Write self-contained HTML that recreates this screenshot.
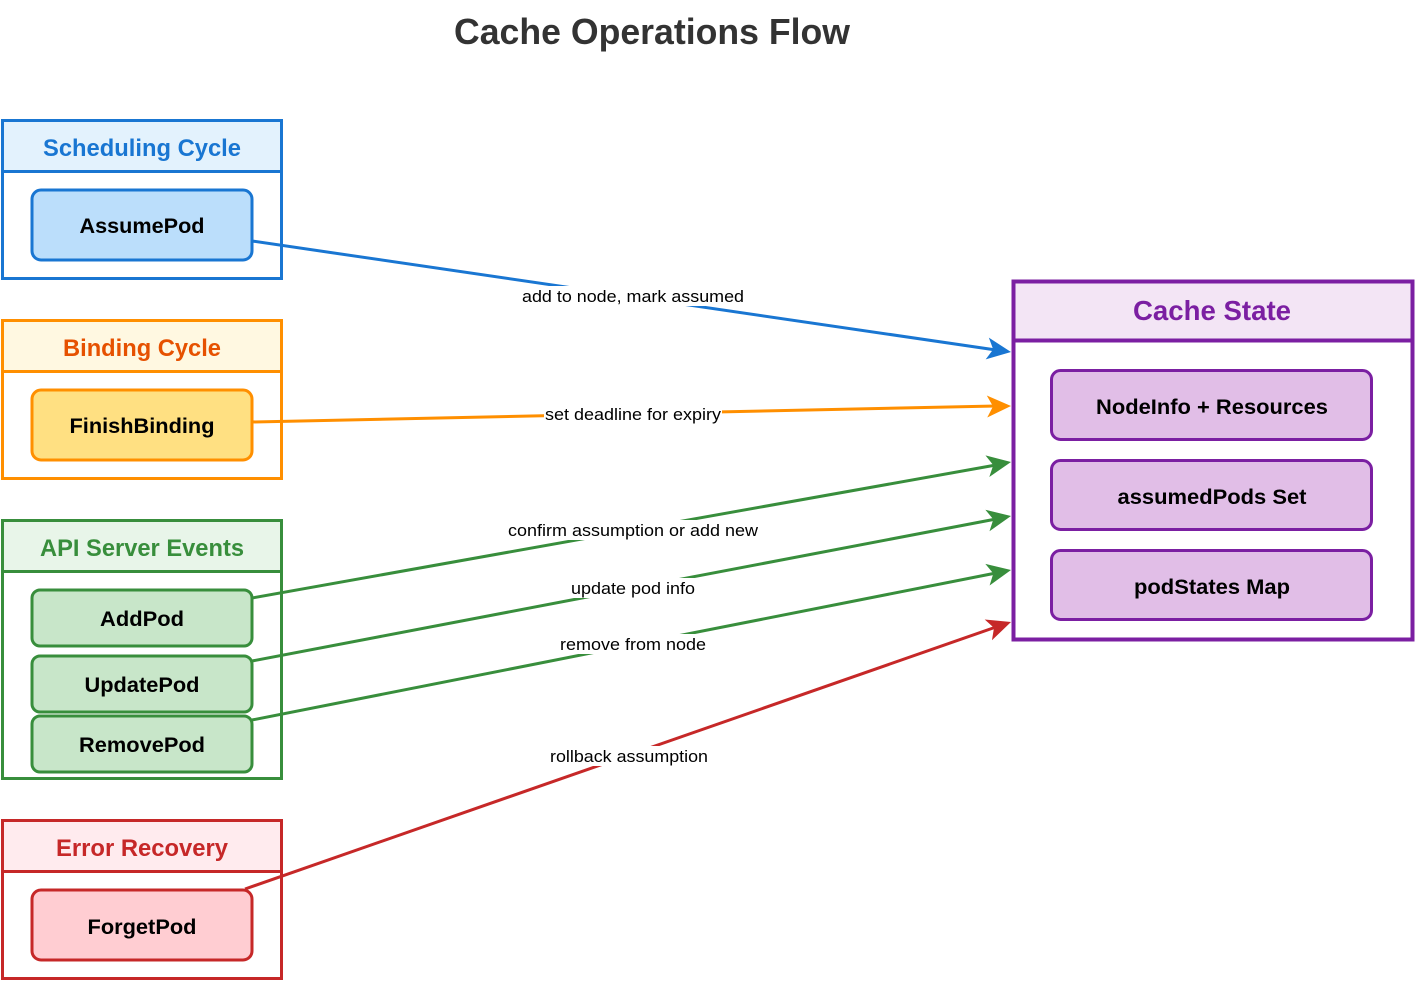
<!DOCTYPE html>
<html><head><meta charset="utf-8"><style>body{margin:0;background:#fff}svg{display:block}text{font-family:"Liberation Sans",Arial,sans-serif}</style></head><body>
<svg width="1416" height="982" viewBox="0 0 1416 982" xmlns="http://www.w3.org/2000/svg">
<text x="652" y="44" font-size="36" font-weight="bold" fill="#333" text-anchor="middle" textLength="396" lengthAdjust="spacingAndGlyphs">Cache Operations Flow</text>

<!-- Scheduling -->
<rect x="2.5" y="120.5" width="279" height="158" fill="#fff" stroke="#1976d2" stroke-width="3"/>
<rect x="2.5" y="120.5" width="279" height="51" fill="#e3f2fd" stroke="#1976d2" stroke-width="3"/>
<text x="142" y="156" font-size="24" font-weight="bold" fill="#1976d2" text-anchor="middle" textLength="198" lengthAdjust="spacingAndGlyphs">Scheduling Cycle</text>
<rect x="32" y="190" width="220" height="70" rx="9" fill="#bbdefb" stroke="#1976d2" stroke-width="3"/>
<text x="142" y="233" font-size="21" font-weight="bold" fill="#000" text-anchor="middle" textLength="125" lengthAdjust="spacingAndGlyphs">AssumePod</text>

<!-- Binding -->
<rect x="2.5" y="320.5" width="279" height="158" fill="#fff" stroke="#ff8f00" stroke-width="3"/>
<rect x="2.5" y="320.5" width="279" height="51" fill="#fff8e1" stroke="#ff8f00" stroke-width="3"/>
<text x="142" y="356" font-size="24" font-weight="bold" fill="#e65100" text-anchor="middle" textLength="158" lengthAdjust="spacingAndGlyphs">Binding Cycle</text>
<rect x="32" y="390" width="220" height="70" rx="9" fill="#ffe082" stroke="#ff8f00" stroke-width="3"/>
<text x="142" y="433" font-size="21" font-weight="bold" fill="#000" text-anchor="middle" textLength="145" lengthAdjust="spacingAndGlyphs">FinishBinding</text>

<!-- API -->
<rect x="2.5" y="520.5" width="279" height="258" fill="#fff" stroke="#388e3c" stroke-width="3"/>
<rect x="2.5" y="520.5" width="279" height="51" fill="#e8f5e9" stroke="#388e3c" stroke-width="3"/>
<text x="142" y="556" font-size="24" font-weight="bold" fill="#388e3c" text-anchor="middle" textLength="204" lengthAdjust="spacingAndGlyphs">API Server Events</text>
<rect x="32" y="590" width="220" height="56" rx="8" fill="#c8e6c9" stroke="#388e3c" stroke-width="3"/>
<text x="142" y="626" font-size="21" font-weight="bold" fill="#000" text-anchor="middle" textLength="84" lengthAdjust="spacingAndGlyphs">AddPod</text>
<rect x="32" y="656" width="220" height="56" rx="8" fill="#c8e6c9" stroke="#388e3c" stroke-width="3"/>
<text x="142" y="692" font-size="21" font-weight="bold" fill="#000" text-anchor="middle" textLength="115" lengthAdjust="spacingAndGlyphs">UpdatePod</text>
<rect x="32" y="716" width="220" height="56" rx="8" fill="#c8e6c9" stroke="#388e3c" stroke-width="3"/>
<text x="142" y="752" font-size="21" font-weight="bold" fill="#000" text-anchor="middle" textLength="126" lengthAdjust="spacingAndGlyphs">RemovePod</text>

<!-- Error -->
<rect x="2.5" y="820.5" width="279" height="158" fill="#fff" stroke="#c62828" stroke-width="3"/>
<rect x="2.5" y="820.5" width="279" height="51" fill="#ffebee" stroke="#c62828" stroke-width="3"/>
<text x="142" y="856" font-size="24" font-weight="bold" fill="#c62828" text-anchor="middle" textLength="172" lengthAdjust="spacingAndGlyphs">Error Recovery</text>
<rect x="32" y="890" width="220" height="70" rx="9" fill="#ffcdd2" stroke="#c62828" stroke-width="3"/>
<text x="142" y="934" font-size="21" font-weight="bold" fill="#000" text-anchor="middle" textLength="109" lengthAdjust="spacingAndGlyphs">ForgetPod</text>

<!-- Cache -->
<rect x="1013.5" y="281.5" width="399" height="358" fill="#fff" stroke="#7b1fa2" stroke-width="4"/>
<rect x="1013.5" y="281.5" width="399" height="59" fill="#f3e5f5" stroke="#7b1fa2" stroke-width="4"/>
<text x="1212" y="320" font-size="28" font-weight="bold" fill="#7b1fa2" text-anchor="middle" textLength="158" lengthAdjust="spacingAndGlyphs">Cache State</text>
<rect x="1051.5" y="370.5" width="320" height="69" rx="9" fill="#e1bee7" stroke="#7b1fa2" stroke-width="3"/>
<text x="1212" y="414" font-size="21" font-weight="bold" fill="#000" text-anchor="middle" textLength="232" lengthAdjust="spacingAndGlyphs">NodeInfo + Resources</text>
<rect x="1051.5" y="460.5" width="320" height="69" rx="9" fill="#e1bee7" stroke="#7b1fa2" stroke-width="3"/>
<text x="1212" y="504" font-size="21" font-weight="bold" fill="#000" text-anchor="middle" textLength="189" lengthAdjust="spacingAndGlyphs">assumedPods Set</text>
<rect x="1051.5" y="550.5" width="320" height="69" rx="9" fill="#e1bee7" stroke="#7b1fa2" stroke-width="3"/>
<text x="1212" y="594" font-size="21" font-weight="bold" fill="#000" text-anchor="middle" textLength="156" lengthAdjust="spacingAndGlyphs">podStates Map</text>

<!-- Edges -->
<g stroke-width="3" fill="none">
<line x1="252" y1="241" x2="996" y2="350" stroke="#1976d2"/>
<line x1="252" y1="422" x2="996" y2="406" stroke="#ff8f00"/>
<line x1="252" y1="598" x2="996" y2="465" stroke="#388e3c"/>
<line x1="252" y1="661" x2="996" y2="519" stroke="#388e3c"/>
<line x1="252" y1="720" x2="996" y2="573" stroke="#388e3c"/>
<line x1="245" y1="889" x2="996" y2="627" stroke="#c62828"/>
</g>
<g>
<path d="M0,0 L-24,-11 L-18,0 L-24,11 Z" fill="#1976d2" transform="translate(1011,352) rotate(8.3)"/>
<path d="M0,0 L-24,-11 L-18,0 L-24,11 Z" fill="#ff8f00" transform="translate(1011,406) rotate(-1.2)"/>
<path d="M0,0 L-24,-11 L-18,0 L-24,11 Z" fill="#388e3c" transform="translate(1011,462) rotate(-10.1)"/>
<path d="M0,0 L-24,-11 L-18,0 L-24,11 Z" fill="#388e3c" transform="translate(1011,516) rotate(-10.8)"/>
<path d="M0,0 L-24,-11 L-18,0 L-24,11 Z" fill="#388e3c" transform="translate(1011,570) rotate(-11.2)"/>
<path d="M0,0 L-24,-11 L-18,0 L-24,11 Z" fill="#c62828" transform="translate(1011,622) rotate(-19.2)"/>
</g>
<!-- labels -->
<g font-size="17" fill="#000" text-anchor="middle">
<rect x="520" y="286" width="226" height="20" fill="#fff"/><text x="633" y="302" textLength="222" lengthAdjust="spacingAndGlyphs">add to node, mark assumed</text>
<rect x="544" y="404" width="178" height="20" fill="#fff"/><text x="633" y="420" textLength="176" lengthAdjust="spacingAndGlyphs">set deadline for expiry</text>
<rect x="506" y="520" width="254" height="20" fill="#fff"/><text x="633" y="536" textLength="250" lengthAdjust="spacingAndGlyphs">confirm assumption or add new</text>
<rect x="569" y="578" width="128" height="20" fill="#fff"/><text x="633" y="594" textLength="124" lengthAdjust="spacingAndGlyphs">update pod info</text>
<rect x="558" y="634" width="150" height="20" fill="#fff"/><text x="633" y="650" textLength="146" lengthAdjust="spacingAndGlyphs">remove from node</text>
<rect x="548" y="746" width="162" height="20" fill="#fff"/><text x="629" y="762" textLength="158" lengthAdjust="spacingAndGlyphs">rollback assumption</text>
</g>
</svg>
</body></html>
